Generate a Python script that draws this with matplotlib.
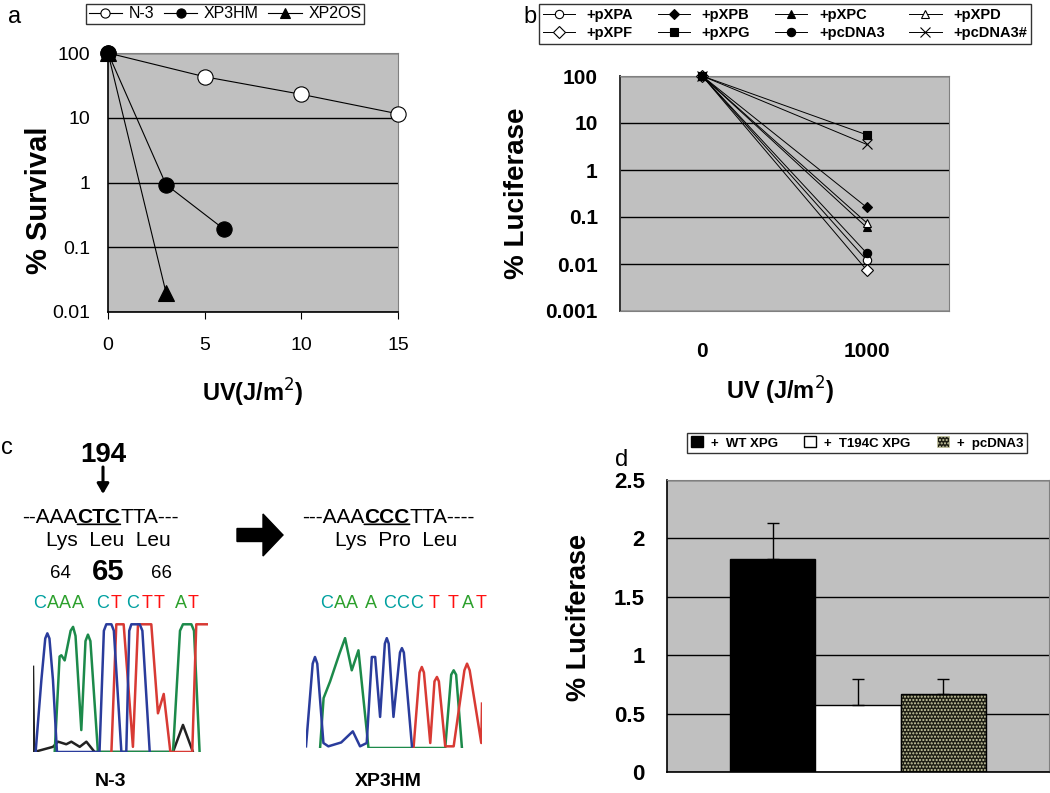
import numpy as np
import matplotlib
matplotlib.use("Agg")
import matplotlib.pyplot as plt
from matplotlib.patches import Patch

plt.rcParams['font.family'] = ['Liberation Sans', 'DejaVu Sans']

# ---- panel a data: survival ----
a_names = ['N-3', 'XP3HM', 'XP2OS']
a_x = [[0, 5, 10, 15], [0, 3, 6], [0, 3]]
a_y = [[100, 43, 23, 11.5], [100, 0.93, 0.19], [100, 0.02]]
a_mark = ['o', 'o', '^']
a_fill = ['white', 'black', 'black']

# ---- panel b data: luciferase after UV ----
b_names = ['+pXPA', '+pXPB', '+pXPC', '+pXPD', '+pXPF', '+pXPG', '+pcDNA3', '+pcDNA3#']
b_doses = ['0', '1000']
b_end = [0.012, 0.16, 0.06, 0.075, 0.0074, 5.6, 0.017, 3.5]
b_mark = ['o', 'D', '^', '^', 'D', 's', 'o', 'x']
b_fill = ['white', 'black', 'black', 'white', 'white', 'black', 'black', 'black']
b_size = [6, 5, 6, 6, 6, 6, 6, 7]

# ---- panel d data ----
d_names = ['+  WT XPG', '+  T194C XPG', '+  pcDNA3']
d_vals = [1.82, 0.57, 0.67]
d_err = [0.31, 0.23, 0.13]

# ---- panel c: base calls and traces ----
n3_bases = list('CAAACTCTTAT')
n3_bx = [40, 53, 65, 78, 103, 116, 133, 147, 159, 181, 193]
xp_bases = list('CAAACCCTTAT')
xp_bx = [327, 340, 352, 371, 390, 403, 417, 434, 453, 468, 481]
base_col = {'C': '#00a0a0', 'A': '#2ca02c', 'T': '#ff1010'}

n3_traces = {
    '#222222': ([0, 0.6, 11.4, 14.3, 19, 21.9, 26.7, 30.5, 35.2, 80, 85.7, 91.4],
                [66, 0, 4, 8, 6, 8, 4, 8, 0, 0, 21, 0]),
    '#1c8a4a': ([12.4, 15.2, 16.2, 18.1, 21.5, 22.9, 24.3, 27.6, 30, 31.4, 32.8, 37.1,
                 80, 84, 85.7, 90.5, 92, 95.2],
                [0, 74, 75, 71, 94, 97, 90, 17, 86, 91, 86, 0, 0, 94, 99, 99, 94, 0]),
    '#d83a34': ([44.8, 47.6, 51.8, 57.1, 60, 67.6, 71.4, 74.7, 78.5, 91, 93.3, 100],
                [0, 99, 99, 4, 99, 99, 30, 45, 0, 0, 99, 99]),
    '#2a3c9c': ([1.5, 4.8, 7, 8.2, 9.4, 11.4, 13.7, 38, 40.5, 41.9, 44.8, 46.2, 50.5,
                 53.3, 55, 56.2, 61, 62.5, 66.7],
                [0, 56, 88, 92, 88, 56, 0, 0, 94, 99, 99, 94, 0, 0, 94, 99, 99, 94, 0]),
}
xp_traces = {
    '#1c8a4a': ([8, 10, 13.7, 19, 22.2, 26, 29.8, 35.5, 79.1, 82.5, 83.9, 85.3, 88.6],
                [0, 45, 60, 85, 99, 70, 88, 0, 0, 66, 70, 66, 0]),
    '#d83a34': ([61.1, 64.5, 65.8, 67, 70.6, 73, 74.4, 75.5, 79.1, 83.9, 90, 91.5, 93, 99.6, 100],
                [0, 68, 73, 68, 4.5, 60, 64, 60, 1.5, 1.5, 70, 76, 70, 4.5, 40]),
    '#2a3c9c': ([0, 3.8, 5.1, 6.4, 9.9, 12.7, 20, 26.6, 30.7, 34.5, 37.4, 39.3, 42.1,
                 44.8, 45.9, 47, 49.7, 53.4, 54.5, 55.6, 60.2],
                [1.5, 76, 82, 76, 4.5, 1.5, 5, 15, 1.5, 4.5, 82, 82, 28, 94, 99, 94,
                 28, 86, 90, 86, 1.5]),
}

W, H = 1050, 793
fig = plt.figure(figsize=(W / 100, H / 100), dpi=100)


def px_axes(l, t, r, b):
    return fig.add_axes([l / W, 1 - b / H, (r - l) / W, (b - t) / H])


GRAY = '#c0c0c0'

# overlay for free text
ov = fig.add_axes([0, 0, 1, 1])
ov.set_xlim(0, W)
ov.set_ylim(H, 0)
ov.axis('off')

# ---------------- panel a ----------------
ax = px_axes(108, 53, 398, 312)
ax.set_facecolor(GRAY)
handles = []
for xs, ys, m, f, n in zip(a_x, a_y, a_mark, a_fill, a_names):
    h, = ax.plot(xs, ys, '-', color='black', lw=0.8, marker=m, ms=11,
                 mfc=f, mec='black', mew=0.8, clip_on=False, label=n, zorder=3)
    handles.append(h)
ax.set_yscale('log')
ax.set_ylim(0.01, 100)
ax.set_xlim(0, 15)
ax.set_xticks([0, 5, 10, 15])
ax.set_yticks([0.01, 0.1, 1, 10, 100])
ax.set_yticklabels(['0.01', '0.1', '1', '10', '100'])
ax.minorticks_off()
ax.yaxis.grid(True, color='black', lw=1)
ax.set_axisbelow(True)
ax.tick_params(axis='y', length=0, pad=13, labelsize=14)
ax.tick_params(axis='x', length=5, direction='out', pad=13, labelsize=14)
for s in ['top', 'right']:
    ax.spines[s].set_color('#808080')
ax.spines['left'].set_linewidth(1.2)
ax.spines['bottom'].set_linewidth(1.2)
ax.set_ylabel('% Survival', fontsize=21, fontweight='bold')
ax.yaxis.set_label_coords(-0.19, 0.43)
ax.set_xlabel('UV(J/m$^2$)', fontsize=17, fontweight='bold')
ax.xaxis.set_label_coords(0.5, -0.25)
fig.legend(handles, a_names, loc='center', bbox_to_anchor=(225 / W, 1 - 14 / H),
           ncol=3, fontsize=11.5, frameon=True, fancybox=False, edgecolor='black',
           markerscale=0.6, handlelength=2.1, handletextpad=0.4, columnspacing=0.6,
           borderpad=0.15, borderaxespad=0).get_frame().set_linewidth(1)

# ---------------- panel b ----------------
bx = px_axes(620, 76, 949, 311)
bx.set_facecolor(GRAY)
bh = []
pos = np.arange(len(b_doses))
for n, e, m, f, s in zip(b_names, b_end, b_mark, b_fill, b_size):
    h, = bx.plot(pos, [100, e], '-', color='black', lw=0.7, marker=m, ms=s,
                 mfc=f, mec='black', mew=0.8, clip_on=False, label=n, zorder=3)
    bh.append(h)
bx.set_yscale('log')
bx.set_ylim(0.001, 100)
bx.set_xlim(-0.5, 1.5)
bx.set_xticks(pos)
bx.set_xticklabels(b_doses, fontweight='bold')
bx.set_yticks([0.001, 0.01, 0.1, 1, 10, 100])
bx.set_yticklabels(['0.001', '0.01', '0.1', '1', '10', '100'], fontweight='bold')
bx.minorticks_off()
bx.yaxis.grid(True, color='black', lw=1)
bx.set_axisbelow(True)
bx.tick_params(axis='y', length=0, pad=16, labelsize=15)
bx.tick_params(axis='x', length=0, pad=22, labelsize=15)
for s in ['top', 'right', 'bottom']:
    bx.spines[s].set_color('#808080')
bx.spines['left'].set_linewidth(1.4)
bx.spines['left'].set_color('#333333')
bx.set_ylabel('% Luciferase', fontsize=20, fontweight='bold')
bx.yaxis.set_label_coords(-0.275, 0.5)
bx.set_xlabel('UV (J/m$^2$)', fontsize=17, fontweight='bold')
bx.xaxis.set_label_coords(0.486, -0.27)
# legend is filled column by column: reorder so rows read A B C D / F G pcDNA3 pcDNA3#
order = [0, 4, 1, 5, 2, 6, 3, 7]
fig.legend([bh[i] for i in order], [b_names[i] for i in order], loc='center',
           bbox_to_anchor=(785 / W, 1 - 24 / H),
           ncol=4, prop={'size': 10.5, 'weight': 'bold'}, frameon=True, fancybox=False,
           edgecolor='black', handlelength=2.2, handletextpad=0.8, columnspacing=1.7,
           borderpad=0.25, labelspacing=0.3, borderaxespad=0).get_frame().set_linewidth(1)

# ---------------- panel d ----------------
dx = px_axes(667, 480, 1049, 772)
dx.set_facecolor(GRAY)
xpos = np.arange(len(d_vals))
dx.bar(xpos[0], d_vals[0], width=1, color='black', edgecolor='black', lw=1, zorder=2)
dx.bar(xpos[1], d_vals[1], width=1, color='white', edgecolor='black', lw=1, zorder=2)
dx.bar(xpos[2], d_vals[2], width=1, color='#1e1e14', edgecolor='#d0d0a8', lw=0,
       hatch='.....', zorder=2)
dx.bar(xpos[2], d_vals[2], width=1, fill=False, edgecolor='black', lw=1, zorder=2)
dx.errorbar(xpos, d_vals, yerr=[np.zeros(3), d_err], fmt='none', ecolor='black',
            elinewidth=1, capsize=4, capthick=1, zorder=3)
dx.set_xlim(-1.24, 3.24)
dx.set_ylim(0, 2.5)
dx.set_xticks([])
dx.set_yticks([0, 0.5, 1, 1.5, 2, 2.5])
dx.set_yticklabels(['0', '0.5', '1', '1.5', '2', '2.5'], fontweight='bold')
dx.yaxis.grid(True, color='black', lw=1)
dx.set_axisbelow(True)
dx.tick_params(axis='y', length=0, pad=16, labelsize=16)
for s in ['top', 'right']:
    dx.spines[s].set_color('#808080')
dx.spines['left'].set_linewidth(1.2)
dx.spines['bottom'].set_linewidth(1.2)
dx.set_ylabel('% Luciferase', fontsize=19.5, fontweight='bold')
dx.yaxis.set_label_coords(-0.196, 0.53)
d_handles = [Patch(facecolor='black', edgecolor='black'),
             Patch(facecolor='white', edgecolor='black'),
             Patch(facecolor='#1e1e14', edgecolor='#d0d0a8', hatch='.....', lw=0.5)]
fig.legend(d_handles, d_names, loc='center', bbox_to_anchor=(857 / W, 1 - 443 / H),
           ncol=3, prop={'size': 9.5, 'weight': 'bold'}, frameon=True, fancybox=False,
           edgecolor='black', handlelength=0.9, handleheight=0.9, handletextpad=0.6,
           columnspacing=2.0, borderpad=0.3, borderaxespad=0).get_frame().set_linewidth(1)

# ---------------- panel c ----------------
for lab, x, y in [('a', 15, 17), ('b', 530, 17), ('c', 7, 448), ('d', 622, 460)]:
    ov.text(x, y, lab, fontsize=17, ha='center', va='center')

ov.text(103, 455, '194', fontsize=20, fontweight='bold', ha='center', va='center')
ov.annotate('', xy=(103, 494), xytext=(103, 467),
            arrowprops=dict(arrowstyle='-|>,head_length=0.6,head_width=0.35',
                            color='black', lw=2.2, shrinkA=0, shrinkB=0))


def seq_line(x, y, parts):
    prev = None
    for txt, bold in parts:
        kw = dict(fontsize=15, fontweight='bold' if bold else 'normal',
                  ha='left', va='bottom')
        if prev is None:
            t = ov.text(x, y, txt, **kw)
        else:
            t = ov.annotate(txt, xy=(1, 0), xycoords=prev, **kw)
        if bold:
            ov.annotate('', xy=(0, 0.14), xycoords=t, xytext=(1, 0.14), textcoords=t,
                        arrowprops=dict(arrowstyle='-', lw=1.2, color='black',
                                        shrinkA=0, shrinkB=0))
        prev = t


seq_line(22, 527, [('--AAA', False), ('CTC', True), ('TTA---', False)])
seq_line(302, 527, [('---AAA', False), ('CCC', True), ('TTA----', False)])
ov.text(108, 541, 'Lys  Leu  Leu', fontsize=15, ha='center', va='center')
ov.text(396, 541, 'Lys  Pro  Leu', fontsize=15, ha='center', va='center')
ov.text(60, 574, '64', fontsize=13.5, ha='center', va='center')
ov.text(108, 572, '65', fontsize=21, fontweight='bold', ha='center', va='center')
ov.text(162, 574, '66', fontsize=13.5, ha='center', va='center')
ov.arrow(237, 535, 26, 0, width=13, head_width=42, head_length=20,
         color='black', length_includes_head=False)

for b, x in zip(n3_bases, n3_bx):
    ov.text(x, 603, b, color=base_col[b], fontsize=13, ha='center', va='center')
for b, x in zip(xp_bases, xp_bx):
    ov.text(x, 603, b, color=base_col[b], fontsize=13, ha='center', va='center')

ov.text(110, 782, 'N-3', fontsize=14, fontweight='bold', ha='center', va='center')
ov.text(388, 782, 'XP3HM', fontsize=14, fontweight='bold', ha='center', va='center')

for (l, t, r, bt), traces in [((33, 623, 208, 752), n3_traces),
                              ((306, 637, 482, 748), xp_traces)]:
    cx = px_axes(l, t, r, bt)
    for col, (xs, ys) in traces.items():
        cx.plot(xs, ys, color=col, lw=1.8, solid_joinstyle='round')
    cx.set_xlim(0, 100)
    cx.set_ylim(0, 100)
    cx.axis('off')

fig.savefig('out.png', dpi=100)
